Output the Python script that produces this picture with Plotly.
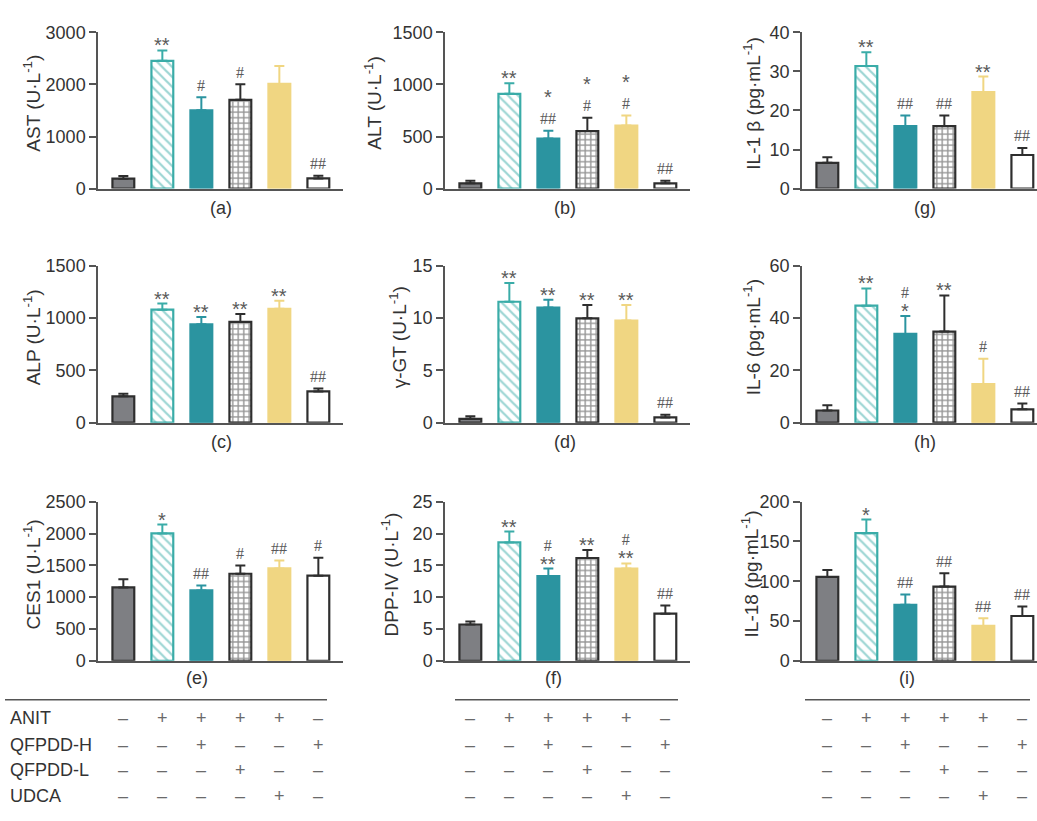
import plotly.graph_objects as go

W, H = 1037, 821

# Treatment groups (order of bars in every panel)
groups = ["Control", "ANIT", "ANIT+QFPDD-H", "ANIT+QFPDD-L", "ANIT+UDCA", "QFPDD-H"]

# ---- serum indices: mean, SD and significance marks (lines listed top to bottom) ----
ast_mean = [190, 2455, 1505, 1705, 2010, 195]
ast_sd = [50, 200, 250, 300, 345, 50]
ast_marks = ["", "**", "#", "#", "", "##"]

alt_mean = [50, 910, 480, 552, 605, 50]
alt_sd = [25, 102, 75, 128, 97, 25]
alt_marks = ["", "**", "*|##", "*|#", "*|#", "##"]

il1b_mean = [6.6, 31.4, 16.0, 16.0, 24.7, 8.6]
il1b_sd = [1.4, 3.5, 2.7, 2.7, 4.0, 1.8]
il1b_marks = ["", "**", "##", "##", "**", "##"]

alp_mean = [252, 1079, 940, 962, 1088, 299]
alp_sd = [25, 59, 69, 76, 76, 28]
alp_marks = ["", "**", "**", "**", "**", "##"]

ggt_mean = [0.37, 11.55, 11.0, 9.97, 9.75, 0.5]
ggt_sd = [0.25, 1.8, 0.74, 1.27, 1.49, 0.25]
ggt_marks = ["", "**", "**", "**", "**", "##"]

il6_mean = [4.65, 44.7, 33.9, 34.8, 14.7, 5.1]
il6_sd = [2.05, 6.6, 6.9, 13.8, 9.7, 2.2]
il6_marks = ["", "**", "#|*", "**", "#", "##"]

ces1_mean = [1152, 2001, 1106, 1368, 1451, 1337]
ces1_sd = [129, 139, 77, 129, 123, 283]
ces1_marks = ["", "*", "##", "#", "##", "#"]

dpp4_mean = [5.7, 18.6, 13.3, 16.15, 14.5, 7.4]
dpp4_sd = [0.46, 1.7, 1.2, 1.25, 0.8, 1.3]
dpp4_marks = ["", "**", "#|**", "**", "#|**", "##"]

il18_mean = [105.4, 160.4, 70.4, 93.3, 43.75, 56.25]
il18_sd = [8.6, 17.1, 12.9, 16.7, 9.55, 12.05]
il18_marks = ["", "*", "##", "##", "##", "##"]

# ---- treatment table ----
row_names = ["ANIT", "QFPDD-H", "QFPDD-L", "UDCA"]
anit_row = ["–", "+", "+", "+", "+", "–"]
qh_row = ["–", "–", "+", "–", "–", "+"]
ql_row = ["–", "–", "–", "+", "–", "–"]
udca_row = ["–", "–", "–", "–", "+", "–"]
table_rows = [anit_row, qh_row, ql_row, udca_row]

panels = [
    dict(tag="(a)", title="AST (U·L<sup>-1</sup>)", ymax=3000, dtick=1000, mean=ast_mean, sd=ast_sd, marks=ast_marks),
    dict(tag="(b)", title="ALT (U·L<sup>-1</sup>)", ymax=1500, dtick=500, mean=alt_mean, sd=alt_sd, marks=alt_marks),
    dict(tag="(g)", title="IL-1 β (pg·mL<sup>-1</sup>)", ymax=40, dtick=10, mean=il1b_mean, sd=il1b_sd, marks=il1b_marks),
    dict(tag="(c)", title="ALP (U·L<sup>-1</sup>)", ymax=1500, dtick=500, mean=alp_mean, sd=alp_sd, marks=alp_marks),
    dict(tag="(d)", title="γ-GT (U·L<sup>-1</sup>)", ymax=15, dtick=5, mean=ggt_mean, sd=ggt_sd, marks=ggt_marks),
    dict(tag="(h)", title="IL-6 (pg·mL<sup>-1</sup>)", ymax=60, dtick=20, mean=il6_mean, sd=il6_sd, marks=il6_marks),
    dict(tag="(e)", title="CES1 (U·L<sup>-1</sup>)", ymax=2500, dtick=500, mean=ces1_mean, sd=ces1_sd, marks=ces1_marks),
    dict(tag="(f)", title="DPP-IV (U·L<sup>-1</sup>)", ymax=25, dtick=5, mean=dpp4_mean, sd=dpp4_sd, marks=dpp4_marks),
    dict(tag="(i)", title="IL-18 (pg·mL<sup>-1</sup>)", ymax=200, dtick=50, mean=il18_mean, sd=il18_sd, marks=il18_marks),
]

# ---- styling of the six groups ----
fills = ["#7e7f83", "#ffffff", "#2b94a0", "#ffffff", "#f0d682", "#ffffff"]
edges = ["#2e2e2e", "#3aaca8", "#2b94a0", "#2e2e2e", "#f0d682", "#2e2e2e"]
shapes_pat = ["", "\\", "", "+", "", ""]
pat_size = [8, 7, 8, 5.5, 8, 8]
pat_solid = [0.3, 0.32, 0.3, 0.45, 0.3, 0.3]

# ---- page geometry (pixels) ----
col_axis_x = [98, 445, 802]
col_width = 245
row_span = [(23, 183), (262, 423), (504, 667)]
px_per_bar = 39.0
title_x = [32, 373, 752, 32, 398, 752, 32, 390, 750]
tag_pos = [(221, 203), (565, 203), (925, 203),
           (221, 443), (565, 443), (925, 443),
           (197, 685), (553, 685), (907, 685)]

AX = "#555555"
TXT = "#333333"
MARK = "#5a5a5a"
FONT = "Liberation Sans, Arial, sans-serif"
SERIF = "Liberation Serif"
SANS = "Liberation Sans"


def mark_html(line):
    """Asterisks in sans, hash signs in a serif face."""
    if line.startswith("#"):
        return f'<span style="font-family:{SERIF};font-size:16px">{line}</span>'
    return f'<span style="font-family:{SANS};font-size:20px">{line}</span>'


fig = go.Figure()
annotations = []
layout = {}

for k, p in enumerate(panels):
    r, c = divmod(k, 3)
    n = "" if k == 0 else str(k + 1)
    xa, ya = "x" + n, "y" + n
    x0 = col_axis_x[c]
    x1 = min(x0 + col_width, W)
    yt, yb = row_span[r]
    xmin = -0.65
    xmax = xmin + (x1 - x0) / px_per_bar

    for i in range(6):
        top = p["mean"][i] + p["sd"][i]
        fig.add_trace(go.Bar(
            x=[i], y=[p["mean"][i]], width=0.56, xaxis=xa, yaxis=ya,
            name=groups[i], showlegend=False,
            marker=dict(
                color=fills[i],
                line=dict(color=edges[i], width=2.2),
                pattern=dict(shape=shapes_pat[i], fgcolor=edges[i], bgcolor=fills[i],
                             size=pat_size[i], solidity=pat_solid[i], fillmode="overlay"),
            ),
            error_y=dict(type="data", symmetric=False, array=[p["sd"][i]], arrayminus=[0],
                         color=edges[i], thickness=2, width=5),
        ))
        if not p["marks"][i]:
            continue
        lines = p["marks"][i].split("|")
        bottom_is_hash = lines[-1].startswith("#")
        annotations.append(dict(
            x=i, y=top, xref=xa, yref=ya,
            text="<br>".join(mark_html(s) for s in lines), showarrow=False,
            xanchor="center", yanchor="bottom",
            yshift=1.5 if bottom_is_hash else -8,
            font=dict(family=FONT, size=15.5, color=MARK),
        ))

    layout["xaxis" + n] = dict(
        domain=[x0 / W, x1 / W], range=[xmin, xmax], anchor=ya,
        showline=True, linecolor=AX, linewidth=1.5, showticklabels=False,
        ticks="", showgrid=False, zeroline=False,
    )
    layout["yaxis" + n] = dict(
        domain=[1 - yb / H, 1 - yt / H], range=[0, p["ymax"]], anchor=xa,
        dtick=p["dtick"], tick0=0, ticks="outside", ticklen=7, tickwidth=1.5,
        tickcolor=AX, showline=True, linecolor=AX, linewidth=1.5,
        tickfont=dict(family=FONT, size=18, color=TXT),
        showgrid=False, zeroline=False,
    )

    annotations.append(dict(
        x=title_x[k] / W, y=1 - ((yt + yb) / 2 - 7) / H, xref="paper", yref="paper",
        text=p["title"], textangle=-90, showarrow=False,
        xanchor="center", yanchor="middle",
        font=dict(family=FONT, size=19, color=TXT),
    ))
    tx, ty = tag_pos[k]
    annotations.append(dict(
        x=tx / W, y=1 - ty / H, xref="paper", yref="paper", text=p["tag"],
        showarrow=False, xanchor="center", yanchor="middle",
        font=dict(family=FONT, size=18, color=TXT),
    ))

# ---- treatment table under the bottom row ----
rule_y = 707
rules = [(5, 327), (455, 678), (805, 1030)]
row_y = [726, 753, 779, 806]
shapes = [dict(type="line", xref="paper", yref="paper",
               x0=a / W, x1=b / W, y0=1 - rule_y / H, y1=1 - rule_y / H,
               line=dict(color=AX, width=1.5)) for a, b in rules]

for j, name in enumerate(row_names):
    annotations.append(dict(
        x=8 / W, y=1 - row_y[j] / H, xref="paper", yref="paper", text=name,
        showarrow=False, xanchor="left", yanchor="middle",
        font=dict(family=FONT, size=18, color=TXT),
    ))
    for xa in ["x7", "x8", "x9"]:
        for i, sign in enumerate(table_rows[j]):
            annotations.append(dict(
                x=i, y=1 - row_y[j] / H, xref=xa, yref="paper", text=sign,
                showarrow=False, xanchor="center", yanchor="middle",
                font=dict(family=FONT, size=18, color="#6a6a6a"),
            ))

fig.update_layout(
    width=W, height=H, margin=dict(l=0, r=0, t=0, b=0),
    paper_bgcolor="white", plot_bgcolor="white",
    barmode="overlay", showlegend=False,
    annotations=annotations, shapes=shapes,
    font=dict(family=FONT),
    **layout,
)

fig.write_html("out.html")
